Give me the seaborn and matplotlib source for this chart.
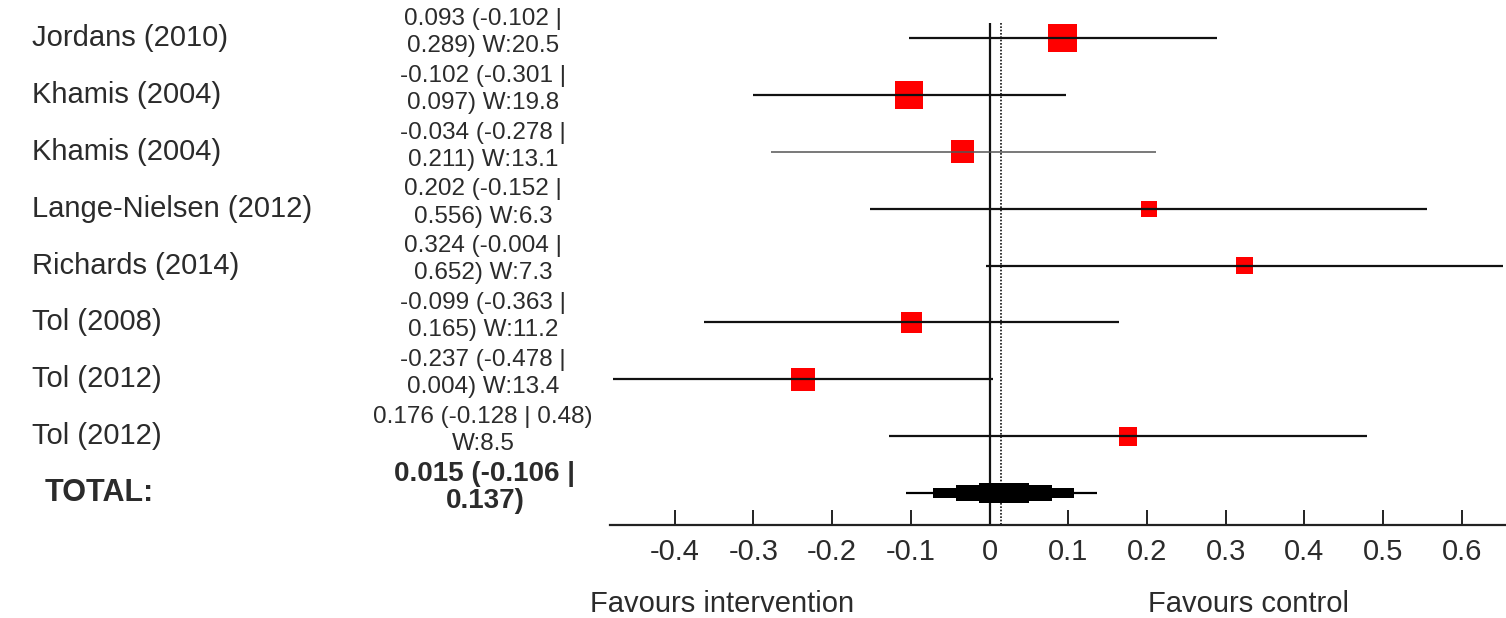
import textwrap
import matplotlib
matplotlib.use("Agg")
import matplotlib.pyplot as plt
import matplotlib.transforms as mtransforms
import pandas as pd
import seaborn as sns

# -------------------------------
# Data
# -------------------------------
studies = ["Jordans (2010)", "Khamis (2004)", "Khamis (2004)", "Lange-Nielsen (2012)",
           "Richards (2014)", "Tol (2008)", "Tol (2012)", "Tol (2012)"]
effect = [0.093, -0.102, -0.034, 0.202, 0.324, -0.099, -0.237, 0.176]
ci_low = [-0.102, -0.301, -0.278, -0.152, -0.004, -0.363, -0.478, -0.128]
ci_high = [0.289, 0.097, 0.211, 0.556, 0.652, 0.165, 0.004, 0.48]
weight = [20.5, 19.8, 13.1, 6.3, 7.3, 11.2, 13.4, 8.5]

total_effect = 0.015
total_low = -0.106
total_high = 0.137

xticks = [-0.4, -0.3, -0.2, -0.1, 0, 0.1, 0.2, 0.3, 0.4, 0.5, 0.6]

df = pd.DataFrame({"study": studies, "effect": effect, "low": ci_low,
                   "high": ci_high, "weight": weight})
df["row"] = range(len(df))
total_row = len(df)

# -------------------------------
# Style
# -------------------------------
sns.set_theme(style="white")
plt.rcParams["font.family"] = ["Liberation Sans", "DejaVu Sans"]
txt_col = "#2b2b2b"

fig = plt.figure(figsize=(15.06, 6.18), dpi=100)
ax = fig.add_axes([610 / 1506, 1 - 525 / 618, 1 - 610 / 1506, 525 / 618])

# squares (area proportional to weight)
wmax = df["weight"].max()
sns.scatterplot(data=df, x="effect", y="row", size="weight", size_norm=(0, wmax),
                sizes=(0, 20.9 * wmax), marker="s", color="#ff0000", linewidth=0,
                legend=False, ax=ax, zorder=2)

# confidence interval lines
for i, r in df.iterrows():
    col, lw = ("#555555", 1.1) if i == 2 else ("#111111", 1.6)
    ax.hlines(r["row"], r["low"], r["high"], color=col, lw=lw, zorder=3)

# pooled estimate: stepped diamond
half = (total_high - total_low) / 2
ax.hlines(total_row, total_low, total_high, color="black", lw=1.6, zorder=3)
for frac, h in [(0.74, 0.18), (0.5, 0.28), (0.26, 0.35)]:
    ax.barh(total_row, 2 * half * frac, left=total_effect - half * frac + 0.003,
            height=h, color="black", linewidth=0, zorder=3)

# reference lines
ax.vlines(0, -0.26, 8.6, color="#111111", lw=1.6, zorder=1)
ax.vlines(total_effect, -0.26, 8.6, color="#111111", lw=1.2, ls=(0, (1, 1)), zorder=1)

ax.set_xlim(-0.482, 0.656)
ax.set_ylim(8.56, -0.668)
ax.set_xticks(xticks)
ax.set_xticklabels([f"{t:g}" for t in xticks], fontsize=21, color=txt_col)
ax.set_yticks([])
ax.set_xlabel("")
ax.set_ylabel("")
for s in ["top", "right", "left"]:
    ax.spines[s].set_visible(False)
ax.spines["bottom"].set_linewidth(1.6)
ax.spines["bottom"].set_color("#222222")
ax.tick_params(axis="x", direction="in", length=11, width=1.4, color="#222222",
               pad=9, bottom=True)
ax.patch.set_alpha(0)

# -------------------------------
# Text columns
# -------------------------------
trans = mtransforms.blended_transform_factory(fig.transFigure, ax.transData)
for i, r in df.iterrows():
    ax.text(32 / 1506, r["row"], r["study"], transform=trans, ha="left", va="center",
            fontsize=21, color=txt_col)
    label = f"{r['effect']:g} ({r['low']:g} | {r['high']:g}) W:{r['weight']:g}"
    label = textwrap.fill(label, 21, break_on_hyphens=False)
    ax.text(483 / 1506, r["row"] - 0.1, label, transform=trans, ha="center",
            va="center", fontsize=17.5, color=txt_col, linespacing=1.3)

ax.text(45 / 1506, total_row, "TOTAL:", transform=trans, ha="left", va="center",
        fontsize=22, fontweight="bold", color=txt_col)
tot_label = textwrap.fill(f"{total_effect:g} ({total_low:g} | {total_high:g})", 21,
                          break_on_hyphens=False)
ax.text(485 / 1506, total_row - 0.1, tot_label, transform=trans, ha="center",
        va="center", fontsize=20, fontweight="bold", color=txt_col, linespacing=1.05)

fig.text(590 / 1506, 1 - 604 / 618, "Favours intervention", ha="left", va="center",
         fontsize=21, color=txt_col)
fig.text(1148 / 1506, 1 - 604 / 618, "Favours control", ha="left", va="center",
         fontsize=21, color=txt_col)

fig.savefig("out.png", dpi=100)
